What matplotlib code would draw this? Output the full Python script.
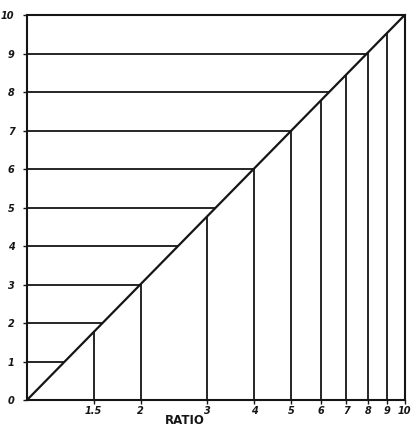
import numpy as np
import matplotlib.pyplot as plt

# Decibel / power-ratio conversion chart
ratio_ticks = [1.5, 2, 3, 4, 5, 6, 7, 8, 9, 10]
ratio_labels = ["1.5", "2", "3", "4", "5", "6", "7", "8", "9", "10"]
db_ticks = [0, 1, 2, 3, 4, 5, 6, 7, 8, 9, 10]

# vertical guide lines (ratio) and their heights in dB where they hit the diagonal
vert_ratio = [1.5, 2, 3, 4, 5, 6, 7, 8, 9]
vert_db = [1.76, 3.01, 4.77, 6.02, 6.99, 7.78, 8.45, 9.03, 9.54]

# horizontal guide lines (dB) and the ratio where they meet the diagonal
horiz_db = [1, 2, 3, 4, 5, 6, 7, 8, 9, 10]
horiz_ratio = [1.26, 1.58, 2.0, 2.51, 3.16, 3.98, 5.01, 6.31, 7.94, 10]

ink = "#151515"

fig = plt.figure(figsize=(4.11, 4.28), dpi=100)
ax = fig.add_axes([0.0657, 0.0654, 0.919, 0.8995])

ax.set_xscale("log")
ax.set_xlim(1, 10)
ax.set_ylim(0, 10)

# diagonal
ax.plot([1, 10], [0, 10], color=ink, lw=1.6, solid_capstyle="butt")

ax.vlines(vert_ratio, 0, vert_db, color=ink, lw=1.3)
ax.hlines(horiz_db, 1, horiz_ratio, color=ink, lw=1.3)

for s in ax.spines.values():
    s.set_color(ink)
    s.set_linewidth(1.5)

ax.set_xticks(ratio_ticks)
ax.set_xticklabels(ratio_labels)
ax.xaxis.set_minor_locator(plt.NullLocator())
ax.set_yticks(db_ticks)
ax.set_yticklabels([str(v) for v in db_ticks])

ax.tick_params(axis="both", direction="out", length=3, width=1, color=ink,
               labelsize=7, labelcolor=ink)
ax.tick_params(axis="y", pad=6)
ax.tick_params(axis="x", pad=1.5)
for lab in ax.get_xticklabels() + ax.get_yticklabels():
    lab.set_fontweight("bold")
    lab.set_fontstyle("italic")

fig.text(0.45, 0.002, "RATIO", fontsize=8.5, fontweight="bold", color=ink,
         ha="center", va="bottom")

fig.savefig("out.png", dpi=100, facecolor="white")
